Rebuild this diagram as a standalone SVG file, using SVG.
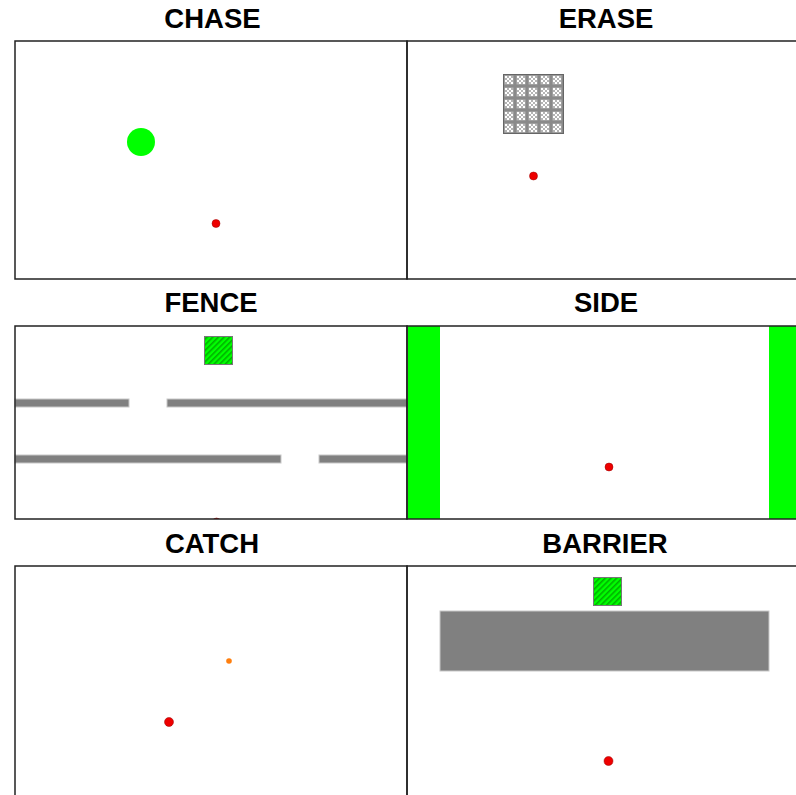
<svg xmlns="http://www.w3.org/2000/svg" width="796" height="795" viewBox="0 0 796 795">
<style>
.title{font-family:"Liberation Sans",Arial,sans-serif;font-weight:bold;font-size:27.5px;fill:#000;text-anchor:middle}
.frame{fill:none;stroke:#222;stroke-width:1.5}
.red{fill:#ee0000;stroke:#990000;stroke-width:0.5}
.bar{fill:#808080;stroke:#c8c8c8;stroke-width:1}
.hatch{fill:url(#hatch);stroke:#777;stroke-width:1}
.lime{fill:#00ff00}
</style>
<defs>
<pattern id="hatch" width="4" height="4" patternUnits="userSpaceOnUse" patternTransform="rotate(45)">
<rect width="4" height="4" fill="#00ff00"/>
<rect width="1.6" height="4" fill="#00b000"/>
</pattern>
<pattern id="check" width="12" height="12" patternUnits="userSpaceOnUse" x="503" y="74">
<rect width="12" height="12" fill="#8a8a8a"/>
<rect x="1.5" y="1.5" width="9" height="9" fill="#b4b4b4"/>
<rect x="2" y="2" width="2" height="2" fill="#fff"/>
<rect x="6" y="2" width="2" height="2" fill="#fff"/>
<rect x="4" y="4" width="2" height="2" fill="#fff"/>
<rect x="8" y="4" width="2" height="2" fill="#fff"/>
<rect x="2" y="6" width="2" height="2" fill="#fff"/>
<rect x="6" y="6" width="2" height="2" fill="#fff"/>
<rect x="4" y="8" width="2" height="2" fill="#fff"/>
<rect x="8" y="8" width="2" height="2" fill="#fff"/>
</pattern>
<clipPath id="clipFence"><rect x="15" y="326" width="392" height="193"/></clipPath>
</defs>
<rect width="796" height="795" fill="#fff"/>

<g id="chase">
<text class="title" x="212.5" y="28">CHASE</text>
<rect class="frame" x="15" y="41" width="392" height="238"/>
<circle class="lime" cx="141" cy="142" r="14"/>
<circle class="red" cx="216" cy="223.5" r="4"/>
</g>

<g id="erase">
<text class="title" x="606" y="28">ERASE</text>
<rect class="frame" x="407" y="41" width="392" height="238"/>
<rect x="503.5" y="74.5" width="60" height="59" fill="url(#check)" stroke="#666" stroke-width="1"/>
<circle class="red" cx="533.5" cy="176" r="4"/>
</g>

<g id="fence">
<text class="title" x="211" y="312">FENCE</text>
<rect class="bar" x="15" y="399" width="114" height="8"/>
<rect class="bar" x="167" y="399" width="240" height="8"/>
<rect class="bar" x="15" y="455" width="266" height="8"/>
<rect class="bar" x="319" y="455" width="88" height="8"/>
<rect class="hatch" x="204.5" y="336.5" width="28" height="28"/>
<circle class="red" cx="216.5" cy="522" r="4" clip-path="url(#clipFence)"/>
<rect class="frame" x="15" y="326" width="392" height="193"/>
</g>

<g id="side">
<text class="title" x="606" y="312">SIDE</text>
<rect class="lime" x="408" y="326" width="32" height="193"/>
<rect class="lime" x="769" y="326" width="30" height="193"/>
<rect class="frame" x="407" y="326" width="392" height="193"/>
<circle class="red" cx="609" cy="467" r="4"/>
</g>

<g id="catch">
<text class="title" x="212" y="553">CATCH</text>
<rect class="frame" x="15" y="566" width="392" height="240"/>
<circle cx="229" cy="661" r="2.8" fill="#ff7f0e"/>
<circle class="red" cx="169" cy="722" r="4.5"/>
</g>

<g id="barrier">
<text class="title" x="605" y="553">BARRIER</text>
<rect class="frame" x="407" y="566" width="392" height="240"/>
<rect class="hatch" x="593.5" y="577.5" width="28" height="28"/>
<rect class="bar" x="440" y="611" width="329" height="60"/>
<circle class="red" cx="608.5" cy="761" r="4.5"/>
</g>

<g id="connectors"/>
</svg>
